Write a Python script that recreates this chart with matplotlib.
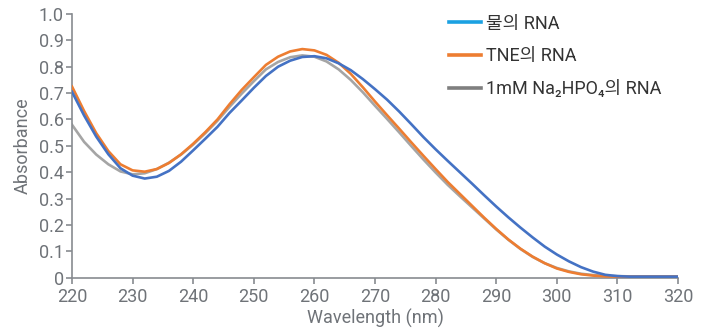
import numpy as np
import matplotlib
matplotlib.use('Agg')
import matplotlib.pyplot as plt
from matplotlib.lines import Line2D
from matplotlib.ticker import FuncFormatter

plt.rcParams['font.family'] = ['Roboto', 'Noto Sans CJK KR', 'DejaVu Sans']

#wavelength grid (nm)
wavelength = list(range(220, 322, 2))

#absorbance, one value per 2 nm
water = [0.705, 0.615, 0.535, 0.468, 0.415, 0.387, 0.376, 0.383, 0.405, 0.44,
         0.483, 0.527, 0.572, 0.625, 0.672, 0.72, 0.765, 0.80, 0.823, 0.837,
         0.84, 0.832, 0.813, 0.787, 0.753, 0.715, 0.675, 0.63, 0.582, 0.533,
         0.487, 0.443, 0.40, 0.357, 0.313, 0.27, 0.229, 0.19, 0.153, 0.118,
         0.088, 0.062, 0.04, 0.023, 0.011, 0.006, 0.004, 0.004, 0.004, 0.004,
         0.004]
tne = [0.725, 0.632, 0.548, 0.48, 0.43, 0.407, 0.402, 0.412, 0.435, 0.468,
       0.508, 0.552, 0.60, 0.658, 0.712, 0.76, 0.807, 0.838, 0.858, 0.867,
       0.862, 0.845, 0.815, 0.773, 0.722, 0.668, 0.616, 0.565, 0.513, 0.462,
       0.412, 0.363, 0.318, 0.273, 0.228, 0.185, 0.145, 0.11, 0.08, 0.055,
       0.035, 0.022, 0.013, 0.008, 0.005, 0.004, 0.004, 0.004, 0.004, 0.004,
       0.004]
phosphate = [0.58, 0.515, 0.467, 0.43, 0.403, 0.392, 0.396, 0.412, 0.436, 0.467,
             0.505, 0.548, 0.595, 0.648, 0.698, 0.745, 0.79, 0.818, 0.836, 0.843,
             0.838, 0.82, 0.79, 0.75, 0.703, 0.652, 0.602, 0.551, 0.499, 0.448,
             0.399, 0.352, 0.309, 0.267, 0.225, 0.183, 0.144, 0.109, 0.079, 0.055,
             0.037, 0.024, 0.015, 0.01, 0.007, 0.006, 0.005, 0.005, 0.005, 0.005,
             0.005]

labels = ['물의 RNA', 'TNE의 RNA', '1mM Na\u2082HPO\u2084의 RNA']
line_colors = ['#4472c4', '#ed7d31', '#a5a5a5']
legend_colors = ['#1ba1e2', '#ed7d31', '#7f7f7f']

text_color = '#6f7378'
axis_color = '#878b90'

fig = plt.figure(figsize=(7.10, 3.29), dpi=100)
ax = fig.add_axes([72/710, 51.3/329, 606/710, 263.7/329])

#grey first so orange/blue sit on top like the original
ax.plot(wavelength, phosphate, color=line_colors[2], lw=1.9, zorder=2, solid_joinstyle='round')
ax.plot(wavelength, tne, color=line_colors[1], lw=1.9, zorder=3, solid_joinstyle='round')
ax.plot(wavelength, water, color=line_colors[0], lw=1.9, zorder=4, solid_joinstyle='round')

ax.set_xlim(220, 320)
ax.set_ylim(0, 1.0)
ax.set_xticks(range(220, 330, 10))
ax.set_yticks(np.arange(0, 1.01, 0.1))
ax.yaxis.set_major_formatter(FuncFormatter(lambda v, p: '0' if v == 0 else '%.1f' % v))

for s in ['top', 'right']:
    ax.spines[s].set_visible(False)
for s in ['left', 'bottom']:
    ax.spines[s].set_color(axis_color)
    ax.spines[s].set_linewidth(1.2)
ax.tick_params(axis='both', colors=axis_color, labelcolor=text_color,
               labelsize=13, length=4, width=1.2, pad=2)
ax.tick_params(axis='x', pad=3.5)

ax.set_xlabel('Wavelength (nm)', fontsize=13, color=text_color, labelpad=2)
ax.set_ylabel('Absorbance', fontsize=13, color=text_color, labelpad=5)

handles = [Line2D([0], [0], color=c, lw=2.6) for c in legend_colors]
leg = ax.legend(handles, labels, loc='upper left', bbox_to_anchor=(0.622, 0.998),
                frameon=False, fontsize=13, handlelength=1.75, handletextpad=0.3,
                labelspacing=0.82, borderpad=0, borderaxespad=0,
                labelcolor='#333333')

fig.savefig('out.png', dpi=100)
